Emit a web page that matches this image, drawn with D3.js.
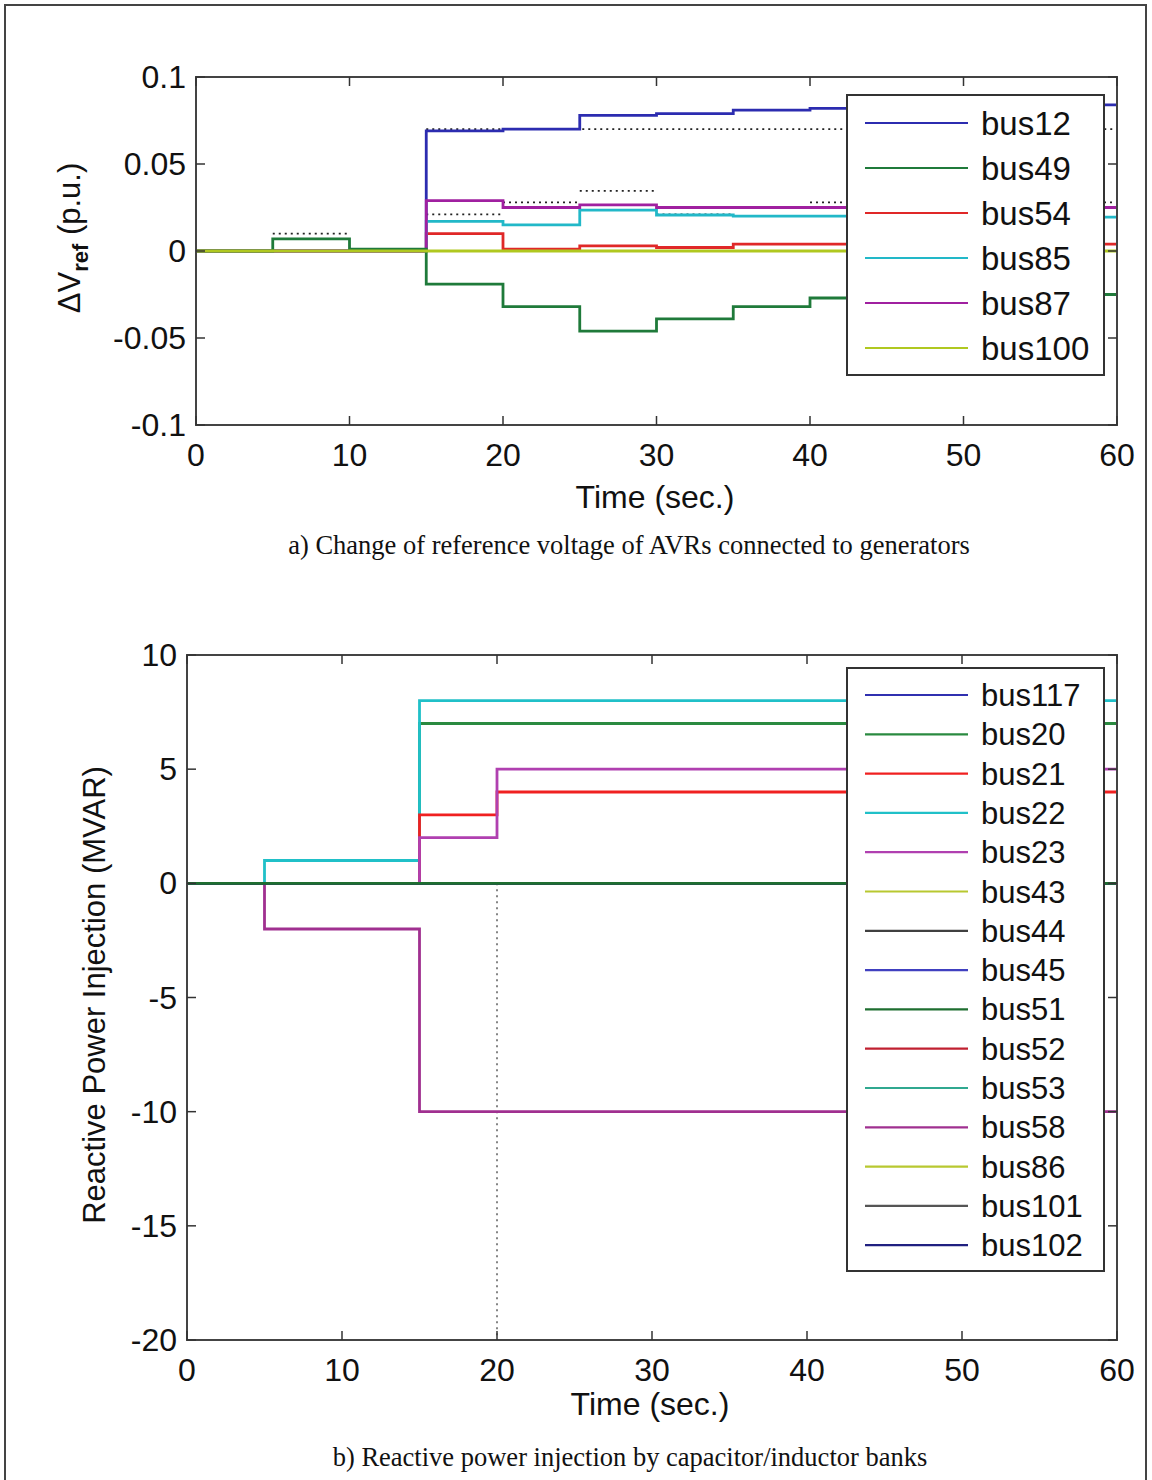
<!DOCTYPE html>
<html><head><meta charset="utf-8">
<script src="https://cdn.jsdelivr.net/npm/d3@7"></script>
<style>body{margin:0;background:#fff}svg{display:block}</style>
</head><body>
<script>
// ---------- DATA: plot a) ----------
const topTimes = [0,5,10,15,20,25,30,35,40,45,50,55];
const topNames = ["bus12","bus49","bus54","bus85","bus87","bus100"];
const topColors = ["#2c2cb0","#1f7a3a","#e02828","#22b8c8","#a020a0","#b0c820"];
const topBus12  = [0,0,0,0.069,0.070,0.078,0.079,0.081,0.082,0.084,0.084,0.084];
const topBus49  = [0,0.007,0.001,-0.019,-0.032,-0.046,-0.039,-0.032,-0.027,-0.025,-0.025,-0.025];
const topBus54  = [0,0,0,0.010,0.001,0.003,0.002,0.004,0.004,0.004,0.004,0.004];
const topBus85  = [0,0,0,0.017,0.015,0.0235,0.0207,0.020,0.020,0.020,0.020,0.0195];
const topBus87  = [0,0,0,0.029,0.025,0.0265,0.025,0.025,0.025,0.025,0.025,0.025];
const topBus100 = [0,0,0,0,0,0,0,0,0,0,0,0];
// dotted reference targets: [start, end, value]
const topRefSegments = [[5,10,0.010],[15,20,0.021],[20,25,0.028],[25,30,0.0345],[30,35,0.021],[40,60,0.028],[15,60,0.070]];
const topXTicks = [0,10,20,30,40,50,60];
const topYTicks = [-0.1,-0.05,0,0.05,0.1];
const topYTickLabels = ["-0.1","-0.05","0","0.05","0.1"];

// ---------- DATA: plot b) ----------
const botTimes = [0,5,15,20];
const botNames = ["bus117","bus20","bus21","bus22","bus23","bus43","bus44","bus45","bus51","bus52","bus53","bus58","bus86","bus101","bus102"];
const botColors = ["#3030b0","#2a8a40","#f02020","#20c0c8","#b040b0","#b8c830","#404040","#4040c0","#1e6e30","#c02030","#30a890","#a03090","#b8c830","#555555","#202080"];
const botValues = {
  bus117:[0,0,0,0], bus20:[0,0,7,7], bus21:[0,0,3,4], bus22:[0,1,8,8], bus23:[0,0,2,5],
  bus43:[0,0,0,0], bus44:[0,0,0,0], bus45:[0,0,0,0], bus51:[0,0,0,0], bus52:[0,0,0,0],
  bus53:[0,0,0,0], bus58:[0,-2,-10,-10], bus86:[0,0,0,0], bus101:[0,0,0,0], bus102:[0,0,0,0]
};
const botDrawOrder = ["bus20","bus22","bus21","bus23","bus58","bus117","bus43","bus44","bus45","bus52","bus53","bus86","bus101","bus102","bus51"];
const botRefVertical = [20, 0, -20]; // time, from, to
const botXTicks = [0,10,20,30,40,50,60];
const botYTicks = [-20,-15,-10,-5,0,5,10];
const tEnd = 60;

const W = 1152, H = 1480;
const svg = d3.select("body").append("svg").attr("width", W).attr("height", H);
svg.append("rect").attr("width", W).attr("height", H).attr("fill", "#fff");
svg.append("rect").attr("x",5).attr("y",5).attr("width",1141).attr("height",1490)
  .attr("fill","none").attr("stroke","#444").attr("stroke-width",2);

const FONT = "'Liberation Sans', Arial, sans-serif";

function toPoints(times, vals){
  const p = times.map((t,i)=>[t, vals[i]]);
  p.push([tEnd, vals[vals.length-1]]);
  return p;
}

function drawAxesFrame(g, x, y, xTicks, yTicks, yLabels){
  const [x0,x1] = x.range(), [y0,y1] = y.range();
  const tl = 9;
  const frame = g.append("g");
  xTicks.forEach(t=>{
    frame.append("line").attr("x1",x(t)).attr("x2",x(t)).attr("y1",y0).attr("y2",y0-tl).attr("stroke","#333").attr("stroke-width",1.5);
    frame.append("line").attr("x1",x(t)).attr("x2",x(t)).attr("y1",y1).attr("y2",y1+tl).attr("stroke","#333").attr("stroke-width",1.5);
    g.append("text").attr("x",x(t)).attr("y",y0+41).attr("text-anchor","middle")
      .attr("font-family",FONT).attr("font-size",32).attr("fill","#111").text(String(t));
  });
  yTicks.forEach((t,i)=>{
    frame.append("line").attr("x1",x0).attr("x2",x0+tl).attr("y1",y(t)).attr("y2",y(t)).attr("stroke","#333").attr("stroke-width",1.5);
    frame.append("line").attr("x1",x1).attr("x2",x1-tl).attr("y1",y(t)).attr("y2",y(t)).attr("stroke","#333").attr("stroke-width",1.5);
    g.append("text").attr("x",x0-10).attr("y",y(t)+11).attr("text-anchor","end")
      .attr("font-family",FONT).attr("font-size",32).attr("fill","#111").text(yLabels[i]);
  });
}
function drawBox(g, x, y){
  const [x0,x1] = x.range(), [y0,y1] = y.range();
  g.append("rect").attr("x",x0).attr("y",y1).attr("width",x1-x0).attr("height",y0-y1)
    .attr("fill","none").attr("stroke","#444").attr("stroke-width",2);
}

// ---------- Plot a) ----------
{
  const g = svg.append("g");
  const x = d3.scaleLinear().domain([0,60]).range([196,1117]);
  const y = d3.scaleLinear().domain([-0.1,0.1]).range([425,77]);
  const line = d3.line().x(d=>x(d[0])).y(d=>y(d[1])).curve(d3.curveStepAfter);
  const topVals = [topBus12, topBus49, topBus54, topBus85, topBus87, topBus100];
  topRefSegments.forEach(s=>{
    g.append("path").attr("d", d3.line().x(d=>x(d[0])).y(d=>y(d[1]))([[s[0],s[2]],[s[1],s[2]]]))
      .attr("stroke","#222").attr("stroke-width",1.8).attr("stroke-dasharray","2,4").attr("fill","none");
  });
  const order = [0,2,3,4,1,5];
  order.forEach(i=>{
    g.append("path").attr("d", line(toPoints(topTimes, topVals[i])))
      .attr("fill","none").attr("stroke",topColors[i]).attr("stroke-width",2.8);
  });
  drawBox(g, x, y);
  drawAxesFrame(g, x, y, topXTicks, topYTicks, topYTickLabels);
  g.append("text").attr("x",655).attr("y",508).attr("text-anchor","middle")
    .attr("font-family",FONT).attr("font-size",32).attr("fill","#111").text("Time (sec.)");
  const yl = g.append("text").attr("transform","translate(80,238) rotate(-90)").attr("text-anchor","middle")
    .attr("font-family",FONT).attr("font-size",31).attr("fill","#111");
  yl.append("tspan").text("ΔV");
  yl.append("tspan").attr("font-size",22).attr("font-weight","bold").attr("dy",8).text("ref");
  yl.append("tspan").attr("dy",-8).text(" (p.u.)");
  const lg = g.append("g");
  lg.append("rect").attr("x",847).attr("y",95).attr("width",257).attr("height",280)
    .attr("fill","#fff").attr("stroke","#333").attr("stroke-width",2);
  topNames.forEach((n,i)=>{
    const cy = 123 + i*45;
    lg.append("line").attr("x1",865).attr("x2",968).attr("y1",cy).attr("y2",cy)
      .attr("stroke",topColors[i]).attr("stroke-width",2.2);
    lg.append("text").attr("x",981).attr("y",cy+12).attr("font-family",FONT).attr("font-size",33)
      .attr("fill","#111").text(n);
  });
  svg.append("text").attr("x",629).attr("y",554).attr("text-anchor","middle")
    .attr("font-family","'Liberation Serif','Times New Roman',serif").attr("font-size",26.5).attr("fill","#111")
    .text("a) Change of reference voltage of AVRs connected to generators");
}

// ---------- Plot b) ----------
{
  const g = svg.append("g");
  const x = d3.scaleLinear().domain([0,60]).range([187,1117]);
  const y = d3.scaleLinear().domain([-20,10]).range([1340,655]);
  const line = d3.line().x(d=>x(d[0])).y(d=>y(d[1])).curve(d3.curveStepAfter);
  g.append("path").attr("d", d3.line().x(d=>x(d[0])).y(d=>y(d[1]))([[botRefVertical[0],botRefVertical[1]],[botRefVertical[0],botRefVertical[2]]]))
    .attr("stroke","#666").attr("stroke-width",1.6).attr("stroke-dasharray","2,4").attr("fill","none");
  botDrawOrder.forEach(n=>{
    const i = botNames.indexOf(n);
    g.append("path").attr("d", line(toPoints(botTimes, botValues[n])))
      .attr("fill","none").attr("stroke",botColors[i]).attr("stroke-width",2.8);
  });
  drawBox(g, x, y);
  drawAxesFrame(g, x, y, botXTicks, botYTicks, botYTicks.map(String));
  g.append("text").attr("x",650).attr("y",1415).attr("text-anchor","middle")
    .attr("font-family",FONT).attr("font-size",32).attr("fill","#111").text("Time (sec.)");
  g.append("text").attr("transform","translate(105,995) rotate(-90)").attr("text-anchor","middle")
    .attr("font-family",FONT).attr("font-size",31).attr("fill","#111").text("Reactive Power Injection (MVAR)");
  const lg = g.append("g");
  lg.append("rect").attr("x",847).attr("y",668).attr("width",257).attr("height",603)
    .attr("fill","#fff").attr("stroke","#333").attr("stroke-width",2);
  botNames.forEach((n,i)=>{
    const cy = 695 + i*39.3;
    lg.append("line").attr("x1",865).attr("x2",968).attr("y1",cy).attr("y2",cy)
      .attr("stroke",botColors[i]).attr("stroke-width",2.2);
    lg.append("text").attr("x",981).attr("y",cy+11).attr("font-family",FONT).attr("font-size",31)
      .attr("fill","#111").text(n);
  });
  svg.append("text").attr("x",630).attr("y",1466).attr("text-anchor","middle")
    .attr("font-family","'Liberation Serif','Times New Roman',serif").attr("font-size",26.5).attr("fill","#111")
    .text("b) Reactive power injection by capacitor/inductor banks");
}
</script>
</body></html>
